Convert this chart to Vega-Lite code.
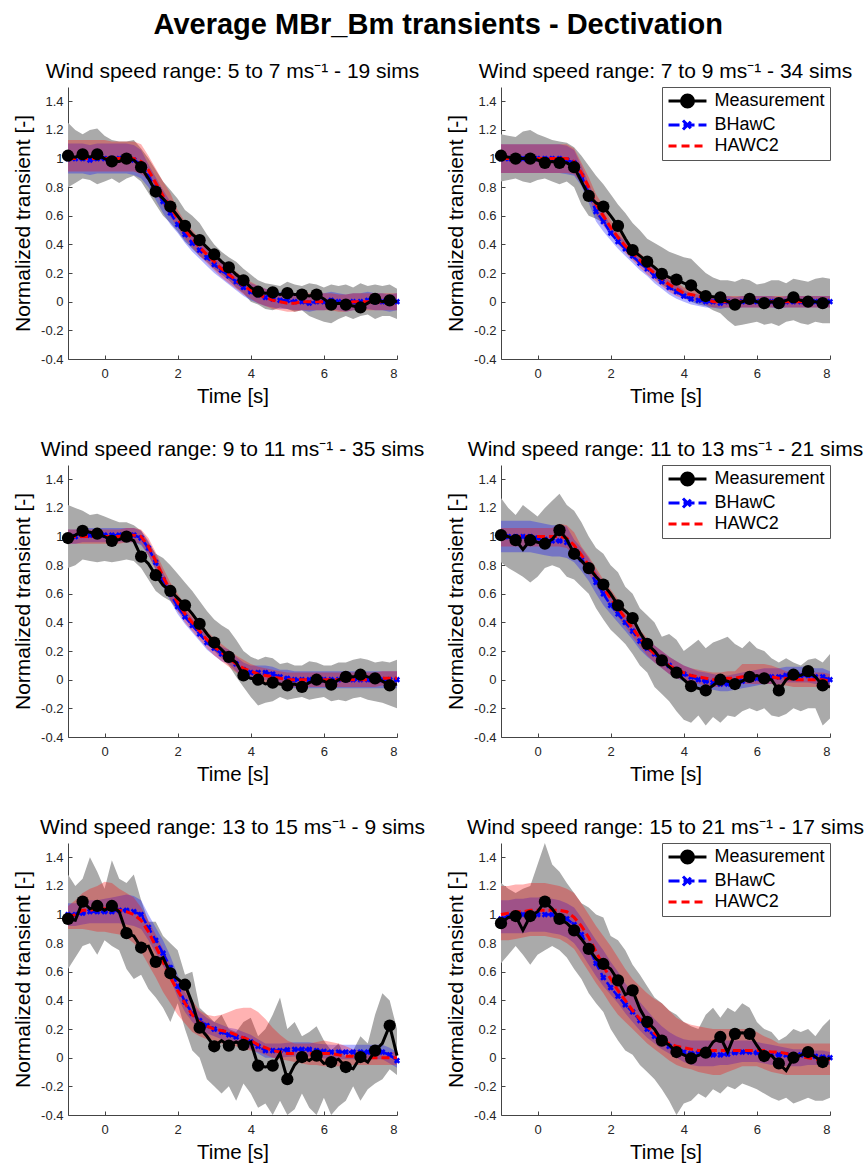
{
"$schema": "https://vega.github.io/schema/vega-lite/v6.json",
"background": "white",
"padding": {"left": 12, "top": 10, "right": 0, "bottom": 0},
"title": {"text": "Average MBr_Bm transients - Dectivation", "fontSize": 29, "fontWeight": "bold", "font": "Liberation Sans", "color": "black", "anchor": "middle", "offset": 21},
"columns": 2,
"spacing": {"row": 106, "column": 104},
"bounds": "flush",
"resolve": {"scale": {"color": "independent"}, "legend": {"color": "independent"}},
"data": {"values": [
{"p":1,"t":-1,"m":1.02,"gl":0.8,"gh":1.25,"b":1,"bl":0.895,"bh":1.105,"h":1,"hl":0.91,"hh":1.13},
{"p":1,"t":-0.8,"m":1.01,"gl":0.83,"gh":1.2,"b":1,"bl":0.895,"bh":1.105,"h":1,"hl":0.91,"hh":1.13},
{"p":1,"t":-0.6,"m":1.03,"gl":0.86,"gh":1.17,"b":1,"bl":0.895,"bh":1.105,"h":1,"hl":0.91,"hh":1.13},
{"p":1,"t":-0.4,"m":1.01,"gl":0.85,"gh":1.2,"b":0.99,"bl":0.885,"bh":1.095,"h":1,"hl":0.91,"hh":1.13},
{"p":1,"t":-0.2,"m":1.03,"gl":0.82,"gh":1.21,"b":1,"bl":0.895,"bh":1.105,"h":1,"hl":0.91,"hh":1.13},
{"p":1,"t":0,"m":1,"gl":0.84,"gh":1.16,"b":1,"bl":0.895,"bh":1.105,"h":1,"hl":0.91,"hh":1.13},
{"p":1,"t":0.2,"m":0.98,"gl":0.86,"gh":1.13,"b":1,"bl":0.895,"bh":1.105,"h":1,"hl":0.91,"hh":1.12},
{"p":1,"t":0.4,"m":0.98,"gl":0.83,"gh":1.12,"b":1,"bl":0.895,"bh":1.105,"h":1,"hl":0.91,"hh":1.12},
{"p":1,"t":0.6,"m":1,"gl":0.86,"gh":1.12,"b":1,"bl":0.895,"bh":1.105,"h":1,"hl":0.91,"hh":1.12},
{"p":1,"t":0.8,"m":0.99,"gl":0.88,"gh":1.13,"b":0.99,"bl":0.885,"bh":1.095,"h":1,"hl":0.91,"hh":1.12},
{"p":1,"t":1,"m":0.94,"gl":0.84,"gh":1.07,"b":0.96,"bl":0.86,"bh":1.06,"h":0.98,"hl":0.89,"hh":1.1},
{"p":1,"t":1.2,"m":0.86,"gl":0.76,"gh":1,"b":0.88,"bl":0.8,"bh":0.96,"h":0.92,"hl":0.85,"hh":1.02},
{"p":1,"t":1.4,"m":0.77,"gl":0.68,"gh":0.92,"b":0.79,"bl":0.71,"bh":0.87,"h":0.83,"hl":0.76,"hh":0.93},
{"p":1,"t":1.6,"m":0.72,"gl":0.6,"gh":0.84,"b":0.7,"bl":0.62,"bh":0.78,"h":0.74,"hl":0.67,"hh":0.84},
{"p":1,"t":1.8,"m":0.665,"gl":0.55,"gh":0.78,"b":0.62,"bl":0.54,"bh":0.7,"h":0.66,"hl":0.59,"hh":0.76},
{"p":1,"t":2,"m":0.6,"gl":0.49,"gh":0.72,"b":0.54,"bl":0.48,"bh":0.6,"h":0.58,"hl":0.52,"hh":0.64},
{"p":1,"t":2.2,"m":0.53,"gl":0.42,"gh":0.64,"b":0.47,"bl":0.41,"bh":0.53,"h":0.5,"hl":0.44,"hh":0.56},
{"p":1,"t":2.4,"m":0.47,"gl":0.37,"gh":0.6,"b":0.41,"bl":0.35,"bh":0.47,"h":0.44,"hl":0.38,"hh":0.5},
{"p":1,"t":2.6,"m":0.43,"gl":0.32,"gh":0.55,"b":0.36,"bl":0.3,"bh":0.42,"h":0.38,"hl":0.32,"hh":0.44},
{"p":1,"t":2.8,"m":0.38,"gl":0.28,"gh":0.47,"b":0.31,"bl":0.25,"bh":0.37,"h":0.33,"hl":0.27,"hh":0.39},
{"p":1,"t":3,"m":0.33,"gl":0.23,"gh":0.4,"b":0.26,"bl":0.2,"bh":0.32,"h":0.28,"hl":0.22,"hh":0.34},
{"p":1,"t":3.2,"m":0.28,"gl":0.19,"gh":0.35,"b":0.22,"bl":0.16,"bh":0.28,"h":0.23,"hl":0.17,"hh":0.29},
{"p":1,"t":3.4,"m":0.24,"gl":0.15,"gh":0.31,"b":0.18,"bl":0.12,"bh":0.24,"h":0.19,"hl":0.13,"hh":0.25},
{"p":1,"t":3.6,"m":0.19,"gl":0.1,"gh":0.28,"b":0.14,"bl":0.08,"bh":0.2,"h":0.15,"hl":0.09,"hh":0.21},
{"p":1,"t":3.8,"m":0.15,"gl":0.06,"gh":0.23,"b":0.1,"bl":0.04,"bh":0.16,"h":0.11,"hl":0.05,"hh":0.17},
{"p":1,"t":4,"m":0.1,"gl":0,"gh":0.19,"b":0.07,"bl":0.01,"bh":0.13,"h":0.08,"hl":0.02,"hh":0.14},
{"p":1,"t":4.2,"m":0.07,"gl":-0.02,"gh":0.15,"b":0.05,"bl":-0.01,"bh":0.11,"h":0.05,"hl":-0.01,"hh":0.11},
{"p":1,"t":4.4,"m":0.06,"gl":-0.05,"gh":0.13,"b":0.03,"bl":-0.03,"bh":0.09,"h":0.03,"hl":-0.03,"hh":0.09},
{"p":1,"t":4.6,"m":0.065,"gl":-0.06,"gh":0.12,"b":0.02,"bl":-0.04,"bh":0.08,"h":0.01,"hl":-0.05,"hh":0.07},
{"p":1,"t":4.8,"m":0.05,"gl":-0.04,"gh":0.11,"b":0.01,"bl":-0.05,"bh":0.07,"h":0,"hl":-0.06,"hh":0.06},
{"p":1,"t":5,"m":0.06,"gl":-0.05,"gh":0.14,"b":0.01,"bl":-0.05,"bh":0.07,"h":-0.01,"hl":-0.07,"hh":0.05},
{"p":1,"t":5.2,"m":0.05,"gl":-0.07,"gh":0.12,"b":0,"bl":-0.06,"bh":0.06,"h":-0.01,"hl":-0.07,"hh":0.05},
{"p":1,"t":5.4,"m":0.05,"gl":-0.06,"gh":0.11,"b":0,"bl":-0.06,"bh":0.06,"h":0,"hl":-0.06,"hh":0.06},
{"p":1,"t":5.6,"m":0.04,"gl":-0.1,"gh":0.13,"b":-0.01,"bl":-0.07,"bh":0.05,"h":0,"hl":-0.06,"hh":0.06},
{"p":1,"t":5.8,"m":0.05,"gl":-0.12,"gh":0.12,"b":0,"bl":-0.06,"bh":0.06,"h":0,"hl":-0.06,"hh":0.06},
{"p":1,"t":6,"m":0.02,"gl":-0.14,"gh":0.1,"b":0,"bl":-0.06,"bh":0.06,"h":0,"hl":-0.06,"hh":0.06},
{"p":1,"t":6.2,"m":-0.02,"gl":-0.15,"gh":0.12,"b":0.01,"bl":-0.05,"bh":0.07,"h":0,"hl":-0.06,"hh":0.06},
{"p":1,"t":6.4,"m":-0.01,"gl":-0.12,"gh":0.11,"b":0,"bl":-0.06,"bh":0.06,"h":-0.01,"hl":-0.07,"hh":0.05},
{"p":1,"t":6.6,"m":-0.02,"gl":-0.1,"gh":0.12,"b":-0.01,"bl":-0.07,"bh":0.05,"h":-0.01,"hl":-0.07,"hh":0.05},
{"p":1,"t":6.8,"m":-0.03,"gl":-0.12,"gh":0.1,"b":0,"bl":-0.06,"bh":0.06,"h":0,"hl":-0.06,"hh":0.06},
{"p":1,"t":7,"m":-0.04,"gl":-0.1,"gh":0.13,"b":0,"bl":-0.06,"bh":0.06,"h":0,"hl":-0.06,"hh":0.06},
{"p":1,"t":7.2,"m":-0.01,"gl":-0.09,"gh":0.11,"b":0.01,"bl":-0.05,"bh":0.07,"h":0,"hl":-0.06,"hh":0.06},
{"p":1,"t":7.4,"m":0.02,"gl":-0.12,"gh":0.12,"b":0,"bl":-0.06,"bh":0.06,"h":0,"hl":-0.06,"hh":0.06},
{"p":1,"t":7.6,"m":0,"gl":-0.1,"gh":0.11,"b":0,"bl":-0.06,"bh":0.06,"h":0,"hl":-0.06,"hh":0.06},
{"p":1,"t":7.8,"m":0.01,"gl":-0.1,"gh":0.12,"b":-0.01,"bl":-0.07,"bh":0.05,"h":0,"hl":-0.06,"hh":0.06},
{"p":1,"t":8,"m":0,"gl":-0.12,"gh":0.09,"b":0,"bl":-0.06,"bh":0.06,"h":0,"hl":-0.06,"hh":0.06},

{"p":2,"t":-1,"m":1.02,"gl":0.84,"gh":1.17,"b":1,"bl":0.9,"bh":1.1,"h":1,"hl":0.9,"hh":1.1},
{"p":2,"t":-0.8,"m":1.01,"gl":0.85,"gh":1.16,"b":1,"bl":0.9,"bh":1.1,"h":1,"hl":0.9,"hh":1.1},
{"p":2,"t":-0.6,"m":1,"gl":0.86,"gh":1.15,"b":1,"bl":0.9,"bh":1.1,"h":1,"hl":0.9,"hh":1.1},
{"p":2,"t":-0.4,"m":1,"gl":0.84,"gh":1.19,"b":1,"bl":0.9,"bh":1.1,"h":1,"hl":0.9,"hh":1.1},
{"p":2,"t":-0.2,"m":1,"gl":0.83,"gh":1.2,"b":1,"bl":0.9,"bh":1.1,"h":1,"hl":0.9,"hh":1.1},
{"p":2,"t":0,"m":0.99,"gl":0.85,"gh":1.17,"b":1,"bl":0.9,"bh":1.1,"h":1,"hl":0.9,"hh":1.1},
{"p":2,"t":0.2,"m":0.97,"gl":0.86,"gh":1.15,"b":1,"bl":0.9,"bh":1.1,"h":1,"hl":0.9,"hh":1.1},
{"p":2,"t":0.4,"m":0.98,"gl":0.84,"gh":1.13,"b":1,"bl":0.9,"bh":1.1,"h":1,"hl":0.9,"hh":1.1},
{"p":2,"t":0.6,"m":0.97,"gl":0.82,"gh":1.12,"b":1,"bl":0.9,"bh":1.1,"h":1,"hl":0.9,"hh":1.1},
{"p":2,"t":0.8,"m":0.97,"gl":0.84,"gh":1.11,"b":0.99,"bl":0.89,"bh":1.09,"h":1,"hl":0.9,"hh":1.1},
{"p":2,"t":1,"m":0.94,"gl":0.8,"gh":1.08,"b":0.97,"bl":0.88,"bh":1.06,"h":0.98,"hl":0.89,"hh":1.07},
{"p":2,"t":1.2,"m":0.84,"gl":0.68,"gh":1.02,"b":0.88,"bl":0.81,"bh":0.95,"h":0.9,"hl":0.83,"hh":0.97},
{"p":2,"t":1.4,"m":0.74,"gl":0.6,"gh":0.95,"b":0.76,"bl":0.69,"bh":0.83,"h":0.8,"hl":0.73,"hh":0.87},
{"p":2,"t":1.6,"m":0.69,"gl":0.58,"gh":0.88,"b":0.63,"bl":0.56,"bh":0.7,"h":0.68,"hl":0.61,"hh":0.75},
{"p":2,"t":1.8,"m":0.665,"gl":0.55,"gh":0.82,"b":0.56,"bl":0.49,"bh":0.63,"h":0.6,"hl":0.53,"hh":0.67},
{"p":2,"t":2,"m":0.6,"gl":0.48,"gh":0.75,"b":0.48,"bl":0.43,"bh":0.53,"h":0.52,"hl":0.47,"hh":0.57},
{"p":2,"t":2.2,"m":0.53,"gl":0.42,"gh":0.68,"b":0.42,"bl":0.37,"bh":0.47,"h":0.45,"hl":0.4,"hh":0.5},
{"p":2,"t":2.4,"m":0.44,"gl":0.36,"gh":0.62,"b":0.37,"bl":0.32,"bh":0.42,"h":0.39,"hl":0.34,"hh":0.44},
{"p":2,"t":2.6,"m":0.36,"gl":0.3,"gh":0.55,"b":0.32,"bl":0.27,"bh":0.37,"h":0.34,"hl":0.29,"hh":0.39},
{"p":2,"t":2.8,"m":0.32,"gl":0.26,"gh":0.5,"b":0.27,"bl":0.22,"bh":0.32,"h":0.29,"hl":0.24,"hh":0.34},
{"p":2,"t":3,"m":0.28,"gl":0.22,"gh":0.44,"b":0.23,"bl":0.18,"bh":0.28,"h":0.24,"hl":0.19,"hh":0.29},
{"p":2,"t":3.2,"m":0.24,"gl":0.17,"gh":0.41,"b":0.18,"bl":0.13,"bh":0.23,"h":0.2,"hl":0.15,"hh":0.25},
{"p":2,"t":3.4,"m":0.195,"gl":0.12,"gh":0.38,"b":0.14,"bl":0.09,"bh":0.19,"h":0.16,"hl":0.11,"hh":0.21},
{"p":2,"t":3.6,"m":0.17,"gl":0.09,"gh":0.35,"b":0.1,"bl":0.05,"bh":0.15,"h":0.12,"hl":0.07,"hh":0.17},
{"p":2,"t":3.8,"m":0.155,"gl":0.06,"gh":0.33,"b":0.07,"bl":0.02,"bh":0.12,"h":0.09,"hl":0.04,"hh":0.14},
{"p":2,"t":4,"m":0.13,"gl":0.03,"gh":0.31,"b":0.04,"bl":0,"bh":0.08,"h":0.06,"hl":0.02,"hh":0.1},
{"p":2,"t":4.2,"m":0.115,"gl":0,"gh":0.3,"b":0.02,"bl":-0.02,"bh":0.06,"h":0.05,"hl":0.01,"hh":0.09},
{"p":2,"t":4.4,"m":0.07,"gl":-0.02,"gh":0.25,"b":0.01,"bl":-0.03,"bh":0.05,"h":0.04,"hl":0,"hh":0.08},
{"p":2,"t":4.6,"m":0.04,"gl":-0.03,"gh":0.2,"b":0,"bl":-0.04,"bh":0.04,"h":0.02,"hl":-0.02,"hh":0.06},
{"p":2,"t":4.8,"m":0.035,"gl":-0.06,"gh":0.17,"b":0,"bl":-0.04,"bh":0.04,"h":0,"hl":-0.04,"hh":0.04},
{"p":2,"t":5,"m":0.03,"gl":-0.08,"gh":0.15,"b":-0.01,"bl":-0.05,"bh":0.03,"h":0,"hl":-0.04,"hh":0.04},
{"p":2,"t":5.2,"m":0,"gl":-0.13,"gh":0.15,"b":0,"bl":-0.04,"bh":0.04,"h":0,"hl":-0.04,"hh":0.04},
{"p":2,"t":5.4,"m":-0.02,"gl":-0.17,"gh":0.14,"b":-0.01,"bl":-0.05,"bh":0.03,"h":0,"hl":-0.04,"hh":0.04},
{"p":2,"t":5.6,"m":0,"gl":-0.16,"gh":0.16,"b":0,"bl":-0.04,"bh":0.04,"h":0,"hl":-0.04,"hh":0.04},
{"p":2,"t":5.8,"m":0.02,"gl":-0.15,"gh":0.15,"b":0,"bl":-0.04,"bh":0.04,"h":0,"hl":-0.04,"hh":0.04},
{"p":2,"t":6,"m":0,"gl":-0.14,"gh":0.12,"b":0,"bl":-0.04,"bh":0.04,"h":0,"hl":-0.04,"hh":0.04},
{"p":2,"t":6.2,"m":-0.01,"gl":-0.16,"gh":0.13,"b":0,"bl":-0.04,"bh":0.04,"h":0,"hl":-0.04,"hh":0.04},
{"p":2,"t":6.4,"m":0,"gl":-0.15,"gh":0.15,"b":0,"bl":-0.04,"bh":0.04,"h":0,"hl":-0.04,"hh":0.04},
{"p":2,"t":6.6,"m":-0.01,"gl":-0.17,"gh":0.15,"b":-0.01,"bl":-0.05,"bh":0.03,"h":0,"hl":-0.04,"hh":0.04},
{"p":2,"t":6.8,"m":0.01,"gl":-0.14,"gh":0.13,"b":0,"bl":-0.04,"bh":0.04,"h":0,"hl":-0.04,"hh":0.04},
{"p":2,"t":7,"m":0.03,"gl":-0.13,"gh":0.16,"b":0,"bl":-0.04,"bh":0.04,"h":0,"hl":-0.04,"hh":0.04},
{"p":2,"t":7.2,"m":0.01,"gl":-0.15,"gh":0.15,"b":0,"bl":-0.04,"bh":0.04,"h":0,"hl":-0.04,"hh":0.04},
{"p":2,"t":7.4,"m":0,"gl":-0.16,"gh":0.14,"b":0,"bl":-0.04,"bh":0.04,"h":0,"hl":-0.04,"hh":0.04},
{"p":2,"t":7.6,"m":0,"gl":-0.14,"gh":0.16,"b":0,"bl":-0.04,"bh":0.04,"h":0,"hl":-0.04,"hh":0.04},
{"p":2,"t":7.8,"m":-0.01,"gl":-0.15,"gh":0.17,"b":0,"bl":-0.04,"bh":0.04,"h":0,"hl":-0.04,"hh":0.04},
{"p":2,"t":8,"m":0,"gl":-0.15,"gh":0.16,"b":0,"bl":-0.04,"bh":0.04,"h":0,"hl":-0.04,"hh":0.04},

{"p":3,"t":-1,"m":0.99,"gl":0.78,"gh":1.22,"b":1,"bl":0.95,"bh":1.05,"h":1,"hl":0.95,"hh":1.05},
{"p":3,"t":-0.8,"m":1.01,"gl":0.8,"gh":1.2,"b":1,"bl":0.95,"bh":1.05,"h":1,"hl":0.95,"hh":1.05},
{"p":3,"t":-0.6,"m":1.04,"gl":0.84,"gh":1.18,"b":1.01,"bl":0.96,"bh":1.06,"h":1,"hl":0.95,"hh":1.05},
{"p":3,"t":-0.4,"m":1.03,"gl":0.83,"gh":1.15,"b":1.01,"bl":0.96,"bh":1.06,"h":1,"hl":0.95,"hh":1.05},
{"p":3,"t":-0.2,"m":1.02,"gl":0.82,"gh":1.16,"b":1.01,"bl":0.96,"bh":1.06,"h":1,"hl":0.95,"hh":1.05},
{"p":3,"t":0,"m":1,"gl":0.83,"gh":1.14,"b":1.01,"bl":0.96,"bh":1.06,"h":1,"hl":0.95,"hh":1.05},
{"p":3,"t":0.2,"m":0.97,"gl":0.82,"gh":1.12,"b":1.01,"bl":0.96,"bh":1.06,"h":1,"hl":0.95,"hh":1.05},
{"p":3,"t":0.4,"m":0.98,"gl":0.83,"gh":1.1,"b":1.01,"bl":0.96,"bh":1.06,"h":1,"hl":0.95,"hh":1.05},
{"p":3,"t":0.6,"m":1,"gl":0.84,"gh":1.1,"b":1.01,"bl":0.96,"bh":1.06,"h":1.01,"hl":0.96,"hh":1.06},
{"p":3,"t":0.8,"m":0.97,"gl":0.83,"gh":1.08,"b":1.01,"bl":0.96,"bh":1.06,"h":1.01,"hl":0.96,"hh":1.06},
{"p":3,"t":1,"m":0.86,"gl":0.78,"gh":1.04,"b":0.99,"bl":0.94,"bh":1.04,"h":1,"hl":0.95,"hh":1.05},
{"p":3,"t":1.2,"m":0.81,"gl":0.7,"gh":0.96,"b":0.92,"bl":0.87,"bh":0.97,"h":0.93,"hl":0.87,"hh":0.99},
{"p":3,"t":1.4,"m":0.73,"gl":0.62,"gh":0.88,"b":0.82,"bl":0.77,"bh":0.87,"h":0.83,"hl":0.77,"hh":0.89},
{"p":3,"t":1.6,"m":0.66,"gl":0.58,"gh":0.85,"b":0.7,"bl":0.65,"bh":0.75,"h":0.72,"hl":0.66,"hh":0.78},
{"p":3,"t":1.8,"m":0.62,"gl":0.55,"gh":0.8,"b":0.6,"bl":0.55,"bh":0.65,"h":0.62,"hl":0.56,"hh":0.68},
{"p":3,"t":2,"m":0.57,"gl":0.48,"gh":0.74,"b":0.51,"bl":0.46,"bh":0.56,"h":0.54,"hl":0.48,"hh":0.6},
{"p":3,"t":2.2,"m":0.52,"gl":0.43,"gh":0.68,"b":0.44,"bl":0.39,"bh":0.49,"h":0.46,"hl":0.4,"hh":0.52},
{"p":3,"t":2.4,"m":0.46,"gl":0.38,"gh":0.62,"b":0.38,"bl":0.33,"bh":0.43,"h":0.4,"hl":0.34,"hh":0.46},
{"p":3,"t":2.6,"m":0.39,"gl":0.33,"gh":0.55,"b":0.32,"bl":0.27,"bh":0.37,"h":0.34,"hl":0.28,"hh":0.4},
{"p":3,"t":2.8,"m":0.32,"gl":0.26,"gh":0.48,"b":0.26,"bl":0.21,"bh":0.31,"h":0.28,"hl":0.22,"hh":0.34},
{"p":3,"t":3,"m":0.26,"gl":0.2,"gh":0.42,"b":0.22,"bl":0.17,"bh":0.27,"h":0.23,"hl":0.17,"hh":0.29},
{"p":3,"t":3.2,"m":0.21,"gl":0.15,"gh":0.38,"b":0.18,"bl":0.13,"bh":0.23,"h":0.19,"hl":0.13,"hh":0.25},
{"p":3,"t":3.4,"m":0.16,"gl":0.1,"gh":0.35,"b":0.16,"bl":0.11,"bh":0.21,"h":0.15,"hl":0.09,"hh":0.21},
{"p":3,"t":3.6,"m":0.12,"gl":0.02,"gh":0.28,"b":0.11,"bl":0.06,"bh":0.16,"h":0.11,"hl":0.05,"hh":0.17},
{"p":3,"t":3.8,"m":0.03,"gl":-0.05,"gh":0.2,"b":0.07,"bl":0.02,"bh":0.12,"h":0.08,"hl":0.02,"hh":0.14},
{"p":3,"t":4,"m":0.01,"gl":-0.12,"gh":0.16,"b":0.05,"bl":0,"bh":0.1,"h":0.06,"hl":0.01,"hh":0.11},
{"p":3,"t":4.2,"m":0,"gl":-0.18,"gh":0.14,"b":0.05,"bl":0,"bh":0.1,"h":0.04,"hl":-0.01,"hh":0.09},
{"p":3,"t":4.4,"m":-0.03,"gl":-0.16,"gh":0.16,"b":0.05,"bl":0,"bh":0.1,"h":0.03,"hl":-0.02,"hh":0.08},
{"p":3,"t":4.6,"m":-0.02,"gl":-0.15,"gh":0.15,"b":0.04,"bl":-0.01,"bh":0.09,"h":0.02,"hl":-0.03,"hh":0.07},
{"p":3,"t":4.8,"m":-0.03,"gl":-0.12,"gh":0.11,"b":0.02,"bl":-0.03,"bh":0.07,"h":0.01,"hl":-0.04,"hh":0.06},
{"p":3,"t":5,"m":-0.04,"gl":-0.14,"gh":0.12,"b":0.01,"bl":-0.05,"bh":0.07,"h":0,"hl":-0.05,"hh":0.05},
{"p":3,"t":5.2,"m":-0.03,"gl":-0.13,"gh":0.1,"b":0,"bl":-0.06,"bh":0.06,"h":0,"hl":-0.05,"hh":0.05},
{"p":3,"t":5.4,"m":-0.05,"gl":-0.12,"gh":0.1,"b":0,"bl":-0.06,"bh":0.06,"h":0,"hl":-0.05,"hh":0.05},
{"p":3,"t":5.6,"m":-0.02,"gl":-0.14,"gh":0.13,"b":0,"bl":-0.06,"bh":0.06,"h":0,"hl":-0.05,"hh":0.05},
{"p":3,"t":5.8,"m":0,"gl":-0.13,"gh":0.12,"b":0,"bl":-0.06,"bh":0.06,"h":0,"hl":-0.05,"hh":0.05},
{"p":3,"t":6,"m":-0.01,"gl":-0.12,"gh":0.1,"b":0,"bl":-0.06,"bh":0.06,"h":0,"hl":-0.05,"hh":0.05},
{"p":3,"t":6.2,"m":-0.035,"gl":-0.15,"gh":0.1,"b":0,"bl":-0.06,"bh":0.06,"h":0,"hl":-0.05,"hh":0.05},
{"p":3,"t":6.4,"m":0,"gl":-0.14,"gh":0.12,"b":0,"bl":-0.06,"bh":0.06,"h":0,"hl":-0.05,"hh":0.05},
{"p":3,"t":6.6,"m":0.02,"gl":-0.15,"gh":0.12,"b":0,"bl":-0.06,"bh":0.06,"h":0,"hl":-0.05,"hh":0.05},
{"p":3,"t":6.8,"m":0.02,"gl":-0.13,"gh":0.14,"b":0,"bl":-0.06,"bh":0.06,"h":0,"hl":-0.05,"hh":0.05},
{"p":3,"t":7,"m":0.035,"gl":-0.12,"gh":0.15,"b":0,"bl":-0.06,"bh":0.06,"h":0,"hl":-0.05,"hh":0.05},
{"p":3,"t":7.2,"m":0.02,"gl":-0.14,"gh":0.14,"b":0,"bl":-0.06,"bh":0.06,"h":0,"hl":-0.05,"hh":0.05},
{"p":3,"t":7.4,"m":0.01,"gl":-0.15,"gh":0.12,"b":0,"bl":-0.06,"bh":0.06,"h":0,"hl":-0.05,"hh":0.05},
{"p":3,"t":7.6,"m":-0.01,"gl":-0.16,"gh":0.13,"b":0,"bl":-0.06,"bh":0.06,"h":0.01,"hl":-0.04,"hh":0.06},
{"p":3,"t":7.8,"m":-0.04,"gl":-0.18,"gh":0.12,"b":0,"bl":-0.06,"bh":0.06,"h":0.01,"hl":-0.04,"hh":0.06},
{"p":3,"t":8,"m":-0.03,"gl":-0.2,"gh":0.14,"b":0,"bl":-0.06,"bh":0.06,"h":0.01,"hl":-0.04,"hh":0.06},

{"p":4,"t":-1,"m":1.01,"gl":0.82,"gh":1.27,"b":1,"bl":0.89,"bh":1.11,"h":1,"hl":0.93,"hh":1.06},
{"p":4,"t":-0.8,"m":1,"gl":0.78,"gh":1.2,"b":1,"bl":0.89,"bh":1.11,"h":1,"hl":0.93,"hh":1.06},
{"p":4,"t":-0.6,"m":0.975,"gl":0.75,"gh":1.15,"b":1,"bl":0.89,"bh":1.11,"h":1,"hl":0.93,"hh":1.06},
{"p":4,"t":-0.4,"m":0.91,"gl":0.72,"gh":1.22,"b":1,"bl":0.89,"bh":1.11,"h":1,"hl":0.93,"hh":1.06},
{"p":4,"t":-0.2,"m":0.975,"gl":0.68,"gh":1.18,"b":1,"bl":0.89,"bh":1.11,"h":1,"hl":0.93,"hh":1.06},
{"p":4,"t":0,"m":0.96,"gl":0.72,"gh":1.14,"b":0.99,"bl":0.88,"bh":1.1,"h":1,"hl":0.93,"hh":1.06},
{"p":4,"t":0.2,"m":0.95,"gl":0.78,"gh":1.2,"b":0.98,"bl":0.87,"bh":1.09,"h":1,"hl":0.93,"hh":1.06},
{"p":4,"t":0.4,"m":0.98,"gl":0.8,"gh":1.25,"b":0.97,"bl":0.86,"bh":1.08,"h":1,"hl":0.93,"hh":1.06},
{"p":4,"t":0.6,"m":1.045,"gl":0.78,"gh":1.3,"b":0.97,"bl":0.86,"bh":1.08,"h":1,"hl":0.93,"hh":1.09},
{"p":4,"t":0.8,"m":0.98,"gl":0.72,"gh":1.22,"b":0.96,"bl":0.85,"bh":1.07,"h":0.99,"hl":0.92,"hh":1.08},
{"p":4,"t":1,"m":0.88,"gl":0.7,"gh":1.18,"b":0.9,"bl":0.82,"bh":0.98,"h":0.94,"hl":0.87,"hh":1.03},
{"p":4,"t":1.2,"m":0.83,"gl":0.65,"gh":1.1,"b":0.84,"bl":0.76,"bh":0.92,"h":0.87,"hl":0.81,"hh":0.93},
{"p":4,"t":1.4,"m":0.78,"gl":0.6,"gh":1,"b":0.77,"bl":0.69,"bh":0.85,"h":0.8,"hl":0.74,"hh":0.86},
{"p":4,"t":1.6,"m":0.72,"gl":0.5,"gh":0.92,"b":0.68,"bl":0.6,"bh":0.76,"h":0.72,"hl":0.66,"hh":0.78},
{"p":4,"t":1.8,"m":0.665,"gl":0.42,"gh":0.88,"b":0.6,"bl":0.52,"bh":0.68,"h":0.64,"hl":0.58,"hh":0.7},
{"p":4,"t":2,"m":0.6,"gl":0.35,"gh":0.8,"b":0.52,"bl":0.46,"bh":0.58,"h":0.57,"hl":0.51,"hh":0.63},
{"p":4,"t":2.2,"m":0.52,"gl":0.3,"gh":0.75,"b":0.46,"bl":0.4,"bh":0.52,"h":0.5,"hl":0.44,"hh":0.56},
{"p":4,"t":2.4,"m":0.48,"gl":0.25,"gh":0.65,"b":0.4,"bl":0.34,"bh":0.46,"h":0.43,"hl":0.37,"hh":0.49},
{"p":4,"t":2.6,"m":0.43,"gl":0.18,"gh":0.6,"b":0.34,"bl":0.28,"bh":0.4,"h":0.36,"hl":0.3,"hh":0.42},
{"p":4,"t":2.8,"m":0.33,"gl":0.1,"gh":0.5,"b":0.27,"bl":0.21,"bh":0.33,"h":0.29,"hl":0.23,"hh":0.35},
{"p":4,"t":3,"m":0.25,"gl":0.05,"gh":0.45,"b":0.22,"bl":0.16,"bh":0.28,"h":0.23,"hl":0.17,"hh":0.29},
{"p":4,"t":3.2,"m":0.2,"gl":-0.05,"gh":0.4,"b":0.18,"bl":0.12,"bh":0.24,"h":0.18,"hl":0.12,"hh":0.24},
{"p":4,"t":3.4,"m":0.135,"gl":-0.1,"gh":0.3,"b":0.14,"bl":0.08,"bh":0.2,"h":0.14,"hl":0.08,"hh":0.2},
{"p":4,"t":3.6,"m":0.09,"gl":-0.15,"gh":0.32,"b":0.1,"bl":0.04,"bh":0.16,"h":0.1,"hl":0.04,"hh":0.16},
{"p":4,"t":3.8,"m":0.05,"gl":-0.22,"gh":0.28,"b":0.07,"bl":0.01,"bh":0.13,"h":0.07,"hl":0.01,"hh":0.13},
{"p":4,"t":4,"m":0,"gl":-0.28,"gh":0.2,"b":0.04,"bl":-0.01,"bh":0.1,"h":0.05,"hl":0,"hh":0.1},
{"p":4,"t":4.2,"m":-0.045,"gl":-0.3,"gh":0.24,"b":0.02,"bl":-0.03,"bh":0.08,"h":0.03,"hl":-0.02,"hh":0.08},
{"p":4,"t":4.4,"m":-0.06,"gl":-0.25,"gh":0.28,"b":0,"bl":-0.05,"bh":0.06,"h":0.02,"hl":-0.03,"hh":0.07},
{"p":4,"t":4.6,"m":-0.075,"gl":-0.32,"gh":0.22,"b":-0.01,"bl":-0.06,"bh":0.05,"h":0.01,"hl":-0.04,"hh":0.06},
{"p":4,"t":4.8,"m":-0.04,"gl":-0.26,"gh":0.26,"b":-0.02,"bl":-0.07,"bh":0.04,"h":0,"hl":-0.05,"hh":0.05},
{"p":4,"t":5,"m":0,"gl":-0.3,"gh":0.28,"b":-0.03,"bl":-0.08,"bh":0.03,"h":0,"hl":-0.05,"hh":0.05},
{"p":4,"t":5.2,"m":-0.01,"gl":-0.25,"gh":0.3,"b":-0.03,"bl":-0.08,"bh":0.03,"h":0.01,"hl":-0.04,"hh":0.06},
{"p":4,"t":5.4,"m":-0.03,"gl":-0.26,"gh":0.25,"b":-0.02,"bl":-0.07,"bh":0.04,"h":0.01,"hl":-0.04,"hh":0.06},
{"p":4,"t":5.6,"m":-0.01,"gl":-0.22,"gh":0.22,"b":-0.01,"bl":-0.06,"bh":0.05,"h":0.02,"hl":-0.03,"hh":0.11},
{"p":4,"t":5.8,"m":0.02,"gl":-0.2,"gh":0.27,"b":0,"bl":-0.05,"bh":0.06,"h":0.02,"hl":-0.03,"hh":0.11},
{"p":4,"t":6,"m":0.03,"gl":-0.22,"gh":0.22,"b":0.01,"bl":-0.04,"bh":0.07,"h":0.02,"hl":-0.03,"hh":0.11},
{"p":4,"t":6.2,"m":0.01,"gl":-0.2,"gh":0.2,"b":0.02,"bl":-0.03,"bh":0.08,"h":0.02,"hl":-0.03,"hh":0.11},
{"p":4,"t":6.4,"m":0,"gl":-0.25,"gh":0.15,"b":0.02,"bl":-0.03,"bh":0.08,"h":0.02,"hl":-0.03,"hh":0.1},
{"p":4,"t":6.6,"m":-0.075,"gl":-0.26,"gh":0.12,"b":0.02,"bl":-0.03,"bh":0.08,"h":0.01,"hl":-0.04,"hh":0.08},
{"p":4,"t":6.8,"m":0,"gl":-0.24,"gh":0.15,"b":0.03,"bl":-0.02,"bh":0.09,"h":0.01,"hl":-0.04,"hh":0.06},
{"p":4,"t":7,"m":0.035,"gl":-0.2,"gh":0.12,"b":0.03,"bl":-0.02,"bh":0.09,"h":0,"hl":-0.05,"hh":0.05},
{"p":4,"t":7.2,"m":0.03,"gl":-0.22,"gh":0.1,"b":0.03,"bl":-0.02,"bh":0.09,"h":0,"hl":-0.05,"hh":0.05},
{"p":4,"t":7.4,"m":0.06,"gl":-0.2,"gh":0.14,"b":0.03,"bl":-0.02,"bh":0.09,"h":0,"hl":-0.05,"hh":0.05},
{"p":4,"t":7.6,"m":0.02,"gl":-0.2,"gh":0.15,"b":0.02,"bl":-0.03,"bh":0.08,"h":0,"hl":-0.05,"hh":0.05},
{"p":4,"t":7.8,"m":-0.04,"gl":-0.32,"gh":0.12,"b":0.02,"bl":-0.03,"bh":0.08,"h":0,"hl":-0.05,"hh":0.05},
{"p":4,"t":8,"m":-0.05,"gl":-0.27,"gh":0.18,"b":0,"bl":-0.05,"bh":0.06,"h":-0.01,"hl":-0.06,"hh":0.04},

{"p":5,"t":-1,"m":0.97,"gl":0.62,"gh":1.28,"b":1,"bl":0.92,"bh":1.08,"h":0.98,"hl":0.9,"hh":1.06},
{"p":5,"t":-0.8,"m":0.96,"gl":0.7,"gh":1.2,"b":1,"bl":0.92,"bh":1.08,"h":1,"hl":0.9,"hh":1.1},
{"p":5,"t":-0.6,"m":1.09,"gl":0.78,"gh":1.25,"b":1.01,"bl":0.93,"bh":1.09,"h":1.03,"hl":0.9,"hh":1.15},
{"p":5,"t":-0.4,"m":1.04,"gl":0.8,"gh":1.4,"b":1.02,"bl":0.94,"bh":1.1,"h":1.03,"hl":0.89,"hh":1.18},
{"p":5,"t":-0.2,"m":1.06,"gl":0.72,"gh":1.3,"b":1.02,"bl":0.94,"bh":1.1,"h":1.04,"hl":0.88,"hh":1.2},
{"p":5,"t":0,"m":1.03,"gl":0.82,"gh":1.18,"b":1.02,"bl":0.94,"bh":1.11,"h":1.04,"hl":0.88,"hh":1.23},
{"p":5,"t":0.2,"m":1.06,"gl":0.78,"gh":1.38,"b":1.02,"bl":0.94,"bh":1.12,"h":1.04,"hl":0.87,"hh":1.22},
{"p":5,"t":0.4,"m":1.02,"gl":0.75,"gh":1.25,"b":1.03,"bl":0.94,"bh":1.13,"h":1.03,"hl":0.86,"hh":1.18},
{"p":5,"t":0.6,"m":0.87,"gl":0.62,"gh":1.22,"b":1.03,"bl":0.93,"bh":1.14,"h":1.02,"hl":0.84,"hh":1.15},
{"p":5,"t":0.8,"m":0.85,"gl":0.55,"gh":1.28,"b":1.02,"bl":0.92,"bh":1.13,"h":1,"hl":0.8,"hh":1.12},
{"p":5,"t":1,"m":0.77,"gl":0.58,"gh":1.1,"b":1,"bl":0.9,"bh":1.1,"h":0.96,"hl":0.74,"hh":1.05},
{"p":5,"t":1.2,"m":0.78,"gl":0.48,"gh":0.95,"b":0.91,"bl":0.82,"bh":1,"h":0.88,"hl":0.65,"hh":0.96},
{"p":5,"t":1.4,"m":0.67,"gl":0.42,"gh":0.95,"b":0.82,"bl":0.73,"bh":0.91,"h":0.78,"hl":0.56,"hh":0.86},
{"p":5,"t":1.6,"m":0.7,"gl":0.35,"gh":0.85,"b":0.73,"bl":0.64,"bh":0.82,"h":0.67,"hl":0.46,"hh":0.76},
{"p":5,"t":1.8,"m":0.59,"gl":0.25,"gh":0.8,"b":0.63,"bl":0.55,"bh":0.71,"h":0.56,"hl":0.38,"hh":0.65},
{"p":5,"t":2,"m":0.55,"gl":0.38,"gh":0.75,"b":0.5,"bl":0.42,"bh":0.58,"h":0.47,"hl":0.3,"hh":0.56},
{"p":5,"t":2.2,"m":0.51,"gl":0.2,"gh":0.58,"b":0.39,"bl":0.32,"bh":0.46,"h":0.38,"hl":0.24,"hh":0.48},
{"p":5,"t":2.4,"m":0.38,"gl":0.05,"gh":0.6,"b":0.31,"bl":0.25,"bh":0.37,"h":0.3,"hl":0.18,"hh":0.4},
{"p":5,"t":2.6,"m":0.21,"gl":0,"gh":0.35,"b":0.26,"bl":0.2,"bh":0.32,"h":0.25,"hl":0.15,"hh":0.33},
{"p":5,"t":2.8,"m":0.15,"gl":-0.15,"gh":0.3,"b":0.225,"bl":0.17,"bh":0.28,"h":0.22,"hl":0.13,"hh":0.3},
{"p":5,"t":3,"m":0.08,"gl":-0.2,"gh":0.25,"b":0.2,"bl":0.15,"bh":0.25,"h":0.2,"hl":0.12,"hh":0.29},
{"p":5,"t":3.2,"m":0.12,"gl":-0.25,"gh":0.3,"b":0.18,"bl":0.13,"bh":0.23,"h":0.19,"hl":0.1,"hh":0.3},
{"p":5,"t":3.4,"m":0.085,"gl":-0.2,"gh":0.2,"b":0.16,"bl":0.11,"bh":0.21,"h":0.18,"hl":0.09,"hh":0.32},
{"p":5,"t":3.6,"m":0.11,"gl":-0.3,"gh":0.18,"b":0.145,"bl":0.1,"bh":0.2,"h":0.16,"hl":0.08,"hh":0.34},
{"p":5,"t":3.8,"m":0.09,"gl":-0.18,"gh":0.25,"b":0.13,"bl":0.08,"bh":0.18,"h":0.14,"hl":0.06,"hh":0.35},
{"p":5,"t":4,"m":0.11,"gl":-0.25,"gh":0.28,"b":0.11,"bl":0.06,"bh":0.16,"h":0.12,"hl":0.05,"hh":0.35},
{"p":5,"t":4.2,"m":-0.055,"gl":-0.35,"gh":0.15,"b":0.08,"bl":0.03,"bh":0.13,"h":0.09,"hl":0.04,"hh":0.32},
{"p":5,"t":4.4,"m":-0.065,"gl":-0.32,"gh":0.2,"b":0.05,"bl":0,"bh":0.1,"h":0.07,"hl":0.02,"hh":0.27},
{"p":5,"t":4.6,"m":-0.055,"gl":-0.4,"gh":0.3,"b":0.05,"bl":0,"bh":0.1,"h":0.05,"hl":0,"hh":0.21},
{"p":5,"t":4.8,"m":0.03,"gl":-0.3,"gh":0.42,"b":0.05,"bl":0,"bh":0.1,"h":0.04,"hl":-0.01,"hh":0.16},
{"p":5,"t":5,"m":-0.15,"gl":-0.4,"gh":0.2,"b":0.055,"bl":0.005,"bh":0.105,"h":0.03,"hl":-0.02,"hh":0.12},
{"p":5,"t":5.2,"m":-0.05,"gl":-0.36,"gh":0.25,"b":0.058,"bl":0.008,"bh":0.108,"h":0.03,"hl":-0.03,"hh":0.1},
{"p":5,"t":5.4,"m":0.005,"gl":-0.25,"gh":0.15,"b":0.058,"bl":0.008,"bh":0.108,"h":0.03,"hl":-0.04,"hh":0.1},
{"p":5,"t":5.6,"m":-0.02,"gl":-0.35,"gh":0.18,"b":0.058,"bl":0.008,"bh":0.108,"h":0.03,"hl":-0.05,"hh":0.1},
{"p":5,"t":5.8,"m":0.015,"gl":-0.4,"gh":0.22,"b":0.05,"bl":0,"bh":0.1,"h":0.03,"hl":-0.05,"hh":0.11},
{"p":5,"t":6,"m":-0.04,"gl":-0.28,"gh":0.12,"b":0.044,"bl":-0.006,"bh":0.094,"h":0.03,"hl":-0.06,"hh":0.12},
{"p":5,"t":6.2,"m":-0.03,"gl":-0.4,"gh":0.05,"b":0.04,"bl":-0.01,"bh":0.09,"h":0.03,"hl":-0.06,"hh":0.11},
{"p":5,"t":6.4,"m":-0.01,"gl":-0.34,"gh":0.1,"b":0.04,"bl":-0.01,"bh":0.09,"h":0.02,"hl":-0.06,"hh":0.1},
{"p":5,"t":6.6,"m":-0.065,"gl":-0.3,"gh":0,"b":0.04,"bl":-0.01,"bh":0.09,"h":0.01,"hl":-0.06,"hh":0.08},
{"p":5,"t":6.8,"m":-0.077,"gl":-0.2,"gh":0.05,"b":0.04,"bl":-0.01,"bh":0.09,"h":0.01,"hl":-0.05,"hh":0.06},
{"p":5,"t":7,"m":0.005,"gl":-0.3,"gh":0.15,"b":0.04,"bl":-0.01,"bh":0.09,"h":0,"hl":-0.05,"hh":0.05},
{"p":5,"t":7.2,"m":-0.03,"gl":-0.22,"gh":0.1,"b":0.04,"bl":-0.01,"bh":0.09,"h":0,"hl":-0.05,"hh":0.04},
{"p":5,"t":7.4,"m":0.05,"gl":-0.18,"gh":0.3,"b":0.04,"bl":-0.01,"bh":0.09,"h":0,"hl":-0.05,"hh":0.04},
{"p":5,"t":7.6,"m":0.1,"gl":-0.15,"gh":0.45,"b":0.04,"bl":-0.01,"bh":0.09,"h":0,"hl":-0.05,"hh":0.04},
{"p":5,"t":7.8,"m":0.225,"gl":-0.08,"gh":0.4,"b":0.02,"bl":-0.04,"bh":0.07,"h":0,"hl":-0.05,"hh":0.04},
{"p":5,"t":8,"m":0.015,"gl":-0.12,"gh":0.2,"b":-0.02,"bl":-0.07,"bh":0.04,"h":0,"hl":-0.05,"hh":0.04},

{"p":6,"t":-1,"m":0.94,"gl":0.66,"gh":1.22,"b":0.97,"bl":0.87,"bh":1.1,"h":1,"hl":0.82,"hh":1.2},
{"p":6,"t":-0.8,"m":0.98,"gl":0.72,"gh":1.18,"b":0.99,"bl":0.87,"bh":1.1,"h":1.01,"hl":0.82,"hh":1.2},
{"p":6,"t":-0.6,"m":0.99,"gl":0.78,"gh":1.15,"b":1,"bl":0.87,"bh":1.11,"h":1.02,"hl":0.83,"hh":1.21},
{"p":6,"t":-0.4,"m":0.89,"gl":0.72,"gh":1.18,"b":1,"bl":0.87,"bh":1.11,"h":1.02,"hl":0.84,"hh":1.21},
{"p":6,"t":-0.2,"m":0.99,"gl":0.65,"gh":1.2,"b":1,"bl":0.88,"bh":1.12,"h":1.03,"hl":0.85,"hh":1.22},
{"p":6,"t":0,"m":1.02,"gl":0.72,"gh":1.35,"b":1,"bl":0.88,"bh":1.12,"h":1.03,"hl":0.85,"hh":1.22},
{"p":6,"t":0.2,"m":1.09,"gl":0.75,"gh":1.5,"b":1,"bl":0.88,"bh":1.12,"h":1.03,"hl":0.85,"hh":1.22},
{"p":6,"t":0.4,"m":1.04,"gl":0.78,"gh":1.35,"b":1,"bl":0.87,"bh":1.11,"h":1.03,"hl":0.84,"hh":1.21},
{"p":6,"t":0.6,"m":0.97,"gl":0.75,"gh":1.3,"b":0.99,"bl":0.86,"bh":1.1,"h":1.03,"hl":0.83,"hh":1.2},
{"p":6,"t":0.8,"m":0.94,"gl":0.7,"gh":1.22,"b":0.97,"bl":0.84,"bh":1.08,"h":1.02,"hl":0.8,"hh":1.18},
{"p":6,"t":1,"m":0.89,"gl":0.62,"gh":1.15,"b":0.93,"bl":0.8,"bh":1.05,"h":0.98,"hl":0.76,"hh":1.15},
{"p":6,"t":1.2,"m":0.83,"gl":0.55,"gh":1.08,"b":0.86,"bl":0.73,"bh":0.98,"h":0.92,"hl":0.68,"hh":1.08},
{"p":6,"t":1.4,"m":0.76,"gl":0.45,"gh":1.05,"b":0.77,"bl":0.65,"bh":0.9,"h":0.84,"hl":0.6,"hh":1},
{"p":6,"t":1.6,"m":0.69,"gl":0.38,"gh":1,"b":0.66,"bl":0.57,"bh":0.82,"h":0.74,"hl":0.52,"hh":0.92},
{"p":6,"t":1.8,"m":0.655,"gl":0.32,"gh":0.98,"b":0.56,"bl":0.5,"bh":0.75,"h":0.64,"hl":0.45,"hh":0.85},
{"p":6,"t":2,"m":0.62,"gl":0.2,"gh":0.85,"b":0.49,"bl":0.44,"bh":0.67,"h":0.55,"hl":0.37,"hh":0.78},
{"p":6,"t":2.2,"m":0.54,"gl":0.12,"gh":0.82,"b":0.43,"bl":0.38,"bh":0.6,"h":0.47,"hl":0.3,"hh":0.7},
{"p":6,"t":2.4,"m":0.44,"gl":0.05,"gh":0.75,"b":0.37,"bl":0.31,"bh":0.52,"h":0.4,"hl":0.25,"hh":0.62},
{"p":6,"t":2.6,"m":0.47,"gl":0.02,"gh":0.65,"b":0.32,"bl":0.25,"bh":0.45,"h":0.33,"hl":0.2,"hh":0.55},
{"p":6,"t":2.8,"m":0.34,"gl":-0.05,"gh":0.58,"b":0.26,"bl":0.19,"bh":0.39,"h":0.27,"hl":0.15,"hh":0.5},
{"p":6,"t":3,"m":0.25,"gl":-0.1,"gh":0.5,"b":0.2,"bl":0.14,"bh":0.33,"h":0.22,"hl":0.1,"hh":0.45},
{"p":6,"t":3.2,"m":0.2,"gl":-0.15,"gh":0.42,"b":0.15,"bl":0.1,"bh":0.27,"h":0.17,"hl":0.06,"hh":0.41},
{"p":6,"t":3.4,"m":0.12,"gl":-0.22,"gh":0.38,"b":0.11,"bl":0.06,"bh":0.22,"h":0.13,"hl":0.02,"hh":0.38},
{"p":6,"t":3.6,"m":0.09,"gl":-0.3,"gh":0.33,"b":0.08,"bl":0.03,"bh":0.18,"h":0.1,"hl":-0.02,"hh":0.33},
{"p":6,"t":3.8,"m":0.04,"gl":-0.4,"gh":0.3,"b":0.05,"bl":0,"bh":0.15,"h":0.08,"hl":-0.05,"hh":0.28},
{"p":6,"t":4,"m":0.02,"gl":-0.32,"gh":0.25,"b":0.04,"bl":-0.03,"bh":0.13,"h":0.07,"hl":-0.07,"hh":0.25},
{"p":6,"t":4.2,"m":-0.005,"gl":-0.3,"gh":0.22,"b":0.03,"bl":-0.05,"bh":0.12,"h":0.06,"hl":-0.08,"hh":0.23},
{"p":6,"t":4.4,"m":0.016,"gl":-0.25,"gh":0.2,"b":0.03,"bl":-0.06,"bh":0.12,"h":0.05,"hl":-0.1,"hh":0.22},
{"p":6,"t":4.6,"m":0.035,"gl":-0.28,"gh":0.3,"b":0.02,"bl":-0.06,"bh":0.12,"h":0.05,"hl":-0.11,"hh":0.21},
{"p":6,"t":4.8,"m":0.11,"gl":-0.22,"gh":0.35,"b":0.02,"bl":-0.06,"bh":0.12,"h":0.05,"hl":-0.12,"hh":0.2},
{"p":6,"t":5,"m":0.145,"gl":-0.25,"gh":0.28,"b":0.02,"bl":-0.05,"bh":0.12,"h":0.05,"hl":-0.12,"hh":0.2},
{"p":6,"t":5.2,"m":0.04,"gl":-0.2,"gh":0.35,"b":0.025,"bl":-0.05,"bh":0.12,"h":0.05,"hl":-0.1,"hh":0.2},
{"p":6,"t":5.4,"m":0.167,"gl":-0.22,"gh":0.32,"b":0.035,"bl":-0.04,"bh":0.12,"h":0.05,"hl":-0.08,"hh":0.2},
{"p":6,"t":5.6,"m":0.175,"gl":-0.18,"gh":0.38,"b":0.04,"bl":-0.03,"bh":0.12,"h":0.05,"hl":-0.06,"hh":0.2},
{"p":6,"t":5.8,"m":0.167,"gl":-0.2,"gh":0.35,"b":0.04,"bl":-0.03,"bh":0.12,"h":0.05,"hl":-0.06,"hh":0.2},
{"p":6,"t":6,"m":0.086,"gl":-0.22,"gh":0.25,"b":0.035,"bl":-0.03,"bh":0.11,"h":0.05,"hl":-0.06,"hh":0.18},
{"p":6,"t":6.2,"m":0.012,"gl":-0.25,"gh":0.2,"b":0.03,"bl":-0.04,"bh":0.1,"h":0.05,"hl":-0.08,"hh":0.15},
{"p":6,"t":6.4,"m":0.016,"gl":-0.28,"gh":0.18,"b":0.025,"bl":-0.05,"bh":0.09,"h":0.04,"hl":-0.1,"hh":0.13},
{"p":6,"t":6.6,"m":-0.04,"gl":-0.3,"gh":0.12,"b":0.02,"bl":-0.05,"bh":0.08,"h":0.04,"hl":-0.11,"hh":0.1},
{"p":6,"t":6.8,"m":-0.09,"gl":-0.28,"gh":0.15,"b":0.02,"bl":-0.06,"bh":0.07,"h":0.03,"hl":-0.12,"hh":0.1},
{"p":6,"t":7,"m":0,"gl":-0.32,"gh":0.2,"b":0.02,"bl":-0.06,"bh":0.06,"h":0.02,"hl":-0.12,"hh":0.1},
{"p":6,"t":7.2,"m":0.016,"gl":-0.3,"gh":0.18,"b":0.02,"bl":-0.06,"bh":0.06,"h":0.01,"hl":-0.12,"hh":0.1},
{"p":6,"t":7.4,"m":0.04,"gl":-0.28,"gh":0.2,"b":0.02,"bl":-0.05,"bh":0.05,"h":0,"hl":-0.12,"hh":0.1},
{"p":6,"t":7.6,"m":0.005,"gl":-0.3,"gh":0.15,"b":0.01,"bl":-0.05,"bh":0.05,"h":-0.01,"hl":-0.12,"hh":0.1},
{"p":6,"t":7.8,"m":-0.03,"gl":-0.3,"gh":0.22,"b":0.005,"bl":-0.05,"bh":0.05,"h":-0.01,"hl":-0.12,"hh":0.1},
{"p":6,"t":8,"m":0,"gl":-0.28,"gh":0.27,"b":0,"bl":-0.05,"bh":0.04,"h":-0.01,"hl":-0.12,"hh":0.1}
]},
"concat": [
{"width": 329, "height": 272, "title": "Wind speed range: 5 to 7 ms⁻¹ - 19 sims",
 "transform": [{"filter": "datum.p == 1"}],
 "encoding": {"x": {"field": "t", "type": "quantitative", "scale": {"domain": [-1, 8], "nice": false, "zero": false}, "axis": {"title": "Time [s]", "values": [0, 2, 4, 6, 8]}}},
 "layer": [
  {"mark": {"type": "area", "color": "#aaaaaa", "opacity": 1, "clip": true}, "encoding": {"y": {"field": "gl", "type": "quantitative", "scale": {"domain": [-0.4, 1.5], "nice": false, "zero": false}, "axis": {"title": "Normalized transient [-]", "tickCount": 10, "labelOverlap": false, "labelExpr": "replace(format(datum.value, '~g'), '\u2212', '-')"}}, "y2": {"field": "gh"}}},
  {"mark": {"type": "area", "color": "#0000ff", "opacity": 0.3, "clip": true}, "encoding": {"y": {"field": "bl", "type": "quantitative"}, "y2": {"field": "bh"}}},
  {"mark": {"type": "area", "color": "#ff0000", "opacity": 0.3, "clip": true}, "encoding": {"y": {"field": "hl", "type": "quantitative"}, "y2": {"field": "hh"}}},
  {"mark": {"type": "line", "strokeWidth": 2.5, "strokeDash": [7, 4]}, "encoding": {"y": {"field": "b", "type": "quantitative"}, "color": {"datum": "BHawC", "scale": {"domain": ["Measurement", "BHawC", "HAWC2"], "range": ["black", "blue", "red"]}, "legend": null}}},
  {"mark": {"type": "point", "shape": "cross", "angle": 45, "filled": true, "size": 40, "color": "blue", "opacity": 1}, "encoding": {"y": {"field": "b", "type": "quantitative"}}},
  {"mark": {"type": "line", "strokeWidth": 3, "strokeDash": [8, 4]}, "encoding": {"y": {"field": "h", "type": "quantitative"}, "color": {"datum": "HAWC2", "legend": null}}},
  {"mark": {"type": "line", "strokeWidth": 3}, "encoding": {"y": {"field": "m", "type": "quantitative"}, "color": {"datum": "Measurement", "legend": null}}},
  {"transform": [{"filter": "round((datum.t + 1) * 5) % 2 == 0"}], "mark": {"type": "point", "shape": "circle", "filled": true, "size": 150, "color": "black", "opacity": 1}, "encoding": {"y": {"field": "m", "type": "quantitative"}}}
 ]},
{"width": 329, "height": 272, "title": "Wind speed range: 7 to 9 ms⁻¹ - 34 sims",
 "transform": [{"filter": "datum.p == 2"}],
 "encoding": {"x": {"field": "t", "type": "quantitative", "scale": {"domain": [-1, 8], "nice": false, "zero": false}, "axis": {"title": "Time [s]", "values": [0, 2, 4, 6, 8]}}},
 "layer": [
  {"mark": {"type": "area", "color": "#aaaaaa", "opacity": 1, "clip": true}, "encoding": {"y": {"field": "gl", "type": "quantitative", "scale": {"domain": [-0.4, 1.5], "nice": false, "zero": false}, "axis": {"title": "Normalized transient [-]", "tickCount": 10, "labelOverlap": false, "labelExpr": "replace(format(datum.value, '~g'), '\u2212', '-')"}}, "y2": {"field": "gh"}}},
  {"mark": {"type": "area", "color": "#0000ff", "opacity": 0.3, "clip": true}, "encoding": {"y": {"field": "bl", "type": "quantitative"}, "y2": {"field": "bh"}}},
  {"mark": {"type": "area", "color": "#ff0000", "opacity": 0.3, "clip": true}, "encoding": {"y": {"field": "hl", "type": "quantitative"}, "y2": {"field": "hh"}}},
  {"mark": {"type": "line", "strokeWidth": 2.5, "strokeDash": [7, 4]}, "encoding": {"y": {"field": "b", "type": "quantitative"}, "color": {"datum": "BHawC", "scale": {"domain": ["Measurement", "BHawC", "HAWC2"], "range": ["black", "blue", "red"]}, "legend": {"title": null, "orient": "top-right", "offset": 0, "symbolType": "stroke", "symbolSize": 225, "symbolOffset": 11.5, "symbolStrokeWidth": 3, "labelFontSize": 18, "labelFont": "Liberation Sans", "labelColor": "black", "strokeColor": "#555555", "fillColor": "white", "padding": 5, "rowPadding": 1, "labelOffset": 18, "encode": {"symbols": {"update": {"shape": {"signal": "datum.value === 'Measurement' ? 'M-2.53,0L2.53,0M0.8,0A0.8,0.8,0,1,1,-0.8,0A0.8,0.8,0,1,1,0.8,0' : datum.value === 'BHawC' ? 'M-2.53,0L2.53,0M-0.6,-0.6L0.6,0.6M-0.6,0.6L0.6,-0.6' : 'M-2.53,0L2.53,0'"}, "strokeDash": {"signal": "datum.value === 'Measurement' ? [] : datum.value === 'BHawC' ? [11, 4] : [8, 5]"}, "fill": {"signal": "datum.value === 'Measurement' ? 'black' : 'transparent'"}}}}}}}},
  {"mark": {"type": "point", "shape": "cross", "angle": 45, "filled": true, "size": 40, "color": "blue", "opacity": 1}, "encoding": {"y": {"field": "b", "type": "quantitative"}}},
  {"mark": {"type": "line", "strokeWidth": 3, "strokeDash": [8, 4]}, "encoding": {"y": {"field": "h", "type": "quantitative"}, "color": {"datum": "HAWC2"}}},
  {"mark": {"type": "line", "strokeWidth": 3}, "encoding": {"y": {"field": "m", "type": "quantitative"}, "color": {"datum": "Measurement"}}},
  {"transform": [{"filter": "round((datum.t + 1) * 5) % 2 == 0"}], "mark": {"type": "point", "shape": "circle", "filled": true, "size": 150, "color": "black", "opacity": 1}, "encoding": {"y": {"field": "m", "type": "quantitative"}}}
 ]},
{"width": 329, "height": 272, "title": "Wind speed range: 9 to 11 ms⁻¹ - 35 sims",
 "transform": [{"filter": "datum.p == 3"}],
 "encoding": {"x": {"field": "t", "type": "quantitative", "scale": {"domain": [-1, 8], "nice": false, "zero": false}, "axis": {"title": "Time [s]", "values": [0, 2, 4, 6, 8]}}},
 "layer": [
  {"mark": {"type": "area", "color": "#aaaaaa", "opacity": 1, "clip": true}, "encoding": {"y": {"field": "gl", "type": "quantitative", "scale": {"domain": [-0.4, 1.5], "nice": false, "zero": false}, "axis": {"title": "Normalized transient [-]", "tickCount": 10, "labelOverlap": false, "labelExpr": "replace(format(datum.value, '~g'), '\u2212', '-')"}}, "y2": {"field": "gh"}}},
  {"mark": {"type": "area", "color": "#0000ff", "opacity": 0.3, "clip": true}, "encoding": {"y": {"field": "bl", "type": "quantitative"}, "y2": {"field": "bh"}}},
  {"mark": {"type": "area", "color": "#ff0000", "opacity": 0.3, "clip": true}, "encoding": {"y": {"field": "hl", "type": "quantitative"}, "y2": {"field": "hh"}}},
  {"mark": {"type": "line", "strokeWidth": 2.5, "strokeDash": [7, 4]}, "encoding": {"y": {"field": "b", "type": "quantitative"}, "color": {"datum": "BHawC", "scale": {"domain": ["Measurement", "BHawC", "HAWC2"], "range": ["black", "blue", "red"]}, "legend": null}}},
  {"mark": {"type": "point", "shape": "cross", "angle": 45, "filled": true, "size": 40, "color": "blue", "opacity": 1}, "encoding": {"y": {"field": "b", "type": "quantitative"}}},
  {"mark": {"type": "line", "strokeWidth": 3, "strokeDash": [8, 4]}, "encoding": {"y": {"field": "h", "type": "quantitative"}, "color": {"datum": "HAWC2", "legend": null}}},
  {"mark": {"type": "line", "strokeWidth": 3}, "encoding": {"y": {"field": "m", "type": "quantitative"}, "color": {"datum": "Measurement", "legend": null}}},
  {"transform": [{"filter": "round((datum.t + 1) * 5) % 2 == 0"}], "mark": {"type": "point", "shape": "circle", "filled": true, "size": 150, "color": "black", "opacity": 1}, "encoding": {"y": {"field": "m", "type": "quantitative"}}}
 ]},
{"width": 329, "height": 272, "title": "Wind speed range: 11 to 13 ms⁻¹ - 21 sims",
 "transform": [{"filter": "datum.p == 4"}],
 "encoding": {"x": {"field": "t", "type": "quantitative", "scale": {"domain": [-1, 8], "nice": false, "zero": false}, "axis": {"title": "Time [s]", "values": [0, 2, 4, 6, 8]}}},
 "layer": [
  {"mark": {"type": "area", "color": "#aaaaaa", "opacity": 1, "clip": true}, "encoding": {"y": {"field": "gl", "type": "quantitative", "scale": {"domain": [-0.4, 1.5], "nice": false, "zero": false}, "axis": {"title": "Normalized transient [-]", "tickCount": 10, "labelOverlap": false, "labelExpr": "replace(format(datum.value, '~g'), '\u2212', '-')"}}, "y2": {"field": "gh"}}},
  {"mark": {"type": "area", "color": "#0000ff", "opacity": 0.3, "clip": true}, "encoding": {"y": {"field": "bl", "type": "quantitative"}, "y2": {"field": "bh"}}},
  {"mark": {"type": "area", "color": "#ff0000", "opacity": 0.3, "clip": true}, "encoding": {"y": {"field": "hl", "type": "quantitative"}, "y2": {"field": "hh"}}},
  {"mark": {"type": "line", "strokeWidth": 2.5, "strokeDash": [7, 4]}, "encoding": {"y": {"field": "b", "type": "quantitative"}, "color": {"datum": "BHawC", "scale": {"domain": ["Measurement", "BHawC", "HAWC2"], "range": ["black", "blue", "red"]}, "legend": {"title": null, "orient": "top-right", "offset": 0, "symbolType": "stroke", "symbolSize": 225, "symbolOffset": 11.5, "symbolStrokeWidth": 3, "labelFontSize": 18, "labelFont": "Liberation Sans", "labelColor": "black", "strokeColor": "#555555", "fillColor": "white", "padding": 5, "rowPadding": 1, "labelOffset": 18, "encode": {"symbols": {"update": {"shape": {"signal": "datum.value === 'Measurement' ? 'M-2.53,0L2.53,0M0.8,0A0.8,0.8,0,1,1,-0.8,0A0.8,0.8,0,1,1,0.8,0' : datum.value === 'BHawC' ? 'M-2.53,0L2.53,0M-0.6,-0.6L0.6,0.6M-0.6,0.6L0.6,-0.6' : 'M-2.53,0L2.53,0'"}, "strokeDash": {"signal": "datum.value === 'Measurement' ? [] : datum.value === 'BHawC' ? [11, 4] : [8, 5]"}, "fill": {"signal": "datum.value === 'Measurement' ? 'black' : 'transparent'"}}}}}}}},
  {"mark": {"type": "point", "shape": "cross", "angle": 45, "filled": true, "size": 40, "color": "blue", "opacity": 1}, "encoding": {"y": {"field": "b", "type": "quantitative"}}},
  {"mark": {"type": "line", "strokeWidth": 3, "strokeDash": [8, 4]}, "encoding": {"y": {"field": "h", "type": "quantitative"}, "color": {"datum": "HAWC2"}}},
  {"mark": {"type": "line", "strokeWidth": 3}, "encoding": {"y": {"field": "m", "type": "quantitative"}, "color": {"datum": "Measurement"}}},
  {"transform": [{"filter": "round((datum.t + 1) * 5) % 2 == 0"}], "mark": {"type": "point", "shape": "circle", "filled": true, "size": 150, "color": "black", "opacity": 1}, "encoding": {"y": {"field": "m", "type": "quantitative"}}}
 ]},
{"width": 329, "height": 272, "title": "Wind speed range: 13 to 15 ms⁻¹ - 9 sims",
 "transform": [{"filter": "datum.p == 5"}],
 "encoding": {"x": {"field": "t", "type": "quantitative", "scale": {"domain": [-1, 8], "nice": false, "zero": false}, "axis": {"title": "Time [s]", "values": [0, 2, 4, 6, 8]}}},
 "layer": [
  {"mark": {"type": "area", "color": "#aaaaaa", "opacity": 1, "clip": true}, "encoding": {"y": {"field": "gl", "type": "quantitative", "scale": {"domain": [-0.4, 1.5], "nice": false, "zero": false}, "axis": {"title": "Normalized transient [-]", "tickCount": 10, "labelOverlap": false, "labelExpr": "replace(format(datum.value, '~g'), '\u2212', '-')"}}, "y2": {"field": "gh"}}},
  {"mark": {"type": "area", "color": "#0000ff", "opacity": 0.3, "clip": true}, "encoding": {"y": {"field": "bl", "type": "quantitative"}, "y2": {"field": "bh"}}},
  {"mark": {"type": "area", "color": "#ff0000", "opacity": 0.3, "clip": true}, "encoding": {"y": {"field": "hl", "type": "quantitative"}, "y2": {"field": "hh"}}},
  {"mark": {"type": "line", "strokeWidth": 2.5, "strokeDash": [7, 4]}, "encoding": {"y": {"field": "b", "type": "quantitative"}, "color": {"datum": "BHawC", "scale": {"domain": ["Measurement", "BHawC", "HAWC2"], "range": ["black", "blue", "red"]}, "legend": null}}},
  {"mark": {"type": "point", "shape": "cross", "angle": 45, "filled": true, "size": 40, "color": "blue", "opacity": 1}, "encoding": {"y": {"field": "b", "type": "quantitative"}}},
  {"mark": {"type": "line", "strokeWidth": 3, "strokeDash": [8, 4]}, "encoding": {"y": {"field": "h", "type": "quantitative"}, "color": {"datum": "HAWC2", "legend": null}}},
  {"mark": {"type": "line", "strokeWidth": 3}, "encoding": {"y": {"field": "m", "type": "quantitative"}, "color": {"datum": "Measurement", "legend": null}}},
  {"transform": [{"filter": "round((datum.t + 1) * 5) % 2 == 0"}], "mark": {"type": "point", "shape": "circle", "filled": true, "size": 150, "color": "black", "opacity": 1}, "encoding": {"y": {"field": "m", "type": "quantitative"}}}
 ]},
{"width": 329, "height": 272, "title": "Wind speed range: 15 to 21 ms⁻¹ - 17 sims",
 "transform": [{"filter": "datum.p == 6"}],
 "encoding": {"x": {"field": "t", "type": "quantitative", "scale": {"domain": [-1, 8], "nice": false, "zero": false}, "axis": {"title": "Time [s]", "values": [0, 2, 4, 6, 8]}}},
 "layer": [
  {"mark": {"type": "area", "color": "#aaaaaa", "opacity": 1, "clip": true}, "encoding": {"y": {"field": "gl", "type": "quantitative", "scale": {"domain": [-0.4, 1.5], "nice": false, "zero": false}, "axis": {"title": "Normalized transient [-]", "tickCount": 10, "labelOverlap": false, "labelExpr": "replace(format(datum.value, '~g'), '\u2212', '-')"}}, "y2": {"field": "gh"}}},
  {"mark": {"type": "area", "color": "#0000ff", "opacity": 0.3, "clip": true}, "encoding": {"y": {"field": "bl", "type": "quantitative"}, "y2": {"field": "bh"}}},
  {"mark": {"type": "area", "color": "#ff0000", "opacity": 0.3, "clip": true}, "encoding": {"y": {"field": "hl", "type": "quantitative"}, "y2": {"field": "hh"}}},
  {"mark": {"type": "line", "strokeWidth": 2.5, "strokeDash": [7, 4]}, "encoding": {"y": {"field": "b", "type": "quantitative"}, "color": {"datum": "BHawC", "scale": {"domain": ["Measurement", "BHawC", "HAWC2"], "range": ["black", "blue", "red"]}, "legend": {"title": null, "orient": "top-right", "offset": 0, "symbolType": "stroke", "symbolSize": 225, "symbolOffset": 11.5, "symbolStrokeWidth": 3, "labelFontSize": 18, "labelFont": "Liberation Sans", "labelColor": "black", "strokeColor": "#555555", "fillColor": "white", "padding": 5, "rowPadding": 1, "labelOffset": 18, "encode": {"symbols": {"update": {"shape": {"signal": "datum.value === 'Measurement' ? 'M-2.53,0L2.53,0M0.8,0A0.8,0.8,0,1,1,-0.8,0A0.8,0.8,0,1,1,0.8,0' : datum.value === 'BHawC' ? 'M-2.53,0L2.53,0M-0.6,-0.6L0.6,0.6M-0.6,0.6L0.6,-0.6' : 'M-2.53,0L2.53,0'"}, "strokeDash": {"signal": "datum.value === 'Measurement' ? [] : datum.value === 'BHawC' ? [11, 4] : [8, 5]"}, "fill": {"signal": "datum.value === 'Measurement' ? 'black' : 'transparent'"}}}}}}}},
  {"mark": {"type": "point", "shape": "cross", "angle": 45, "filled": true, "size": 40, "color": "blue", "opacity": 1}, "encoding": {"y": {"field": "b", "type": "quantitative"}}},
  {"mark": {"type": "line", "strokeWidth": 3, "strokeDash": [8, 4]}, "encoding": {"y": {"field": "h", "type": "quantitative"}, "color": {"datum": "HAWC2"}}},
  {"mark": {"type": "line", "strokeWidth": 3}, "encoding": {"y": {"field": "m", "type": "quantitative"}, "color": {"datum": "Measurement"}}},
  {"transform": [{"filter": "round((datum.t + 1) * 5) % 2 == 0"}], "mark": {"type": "point", "shape": "circle", "filled": true, "size": 150, "color": "black", "opacity": 1}, "encoding": {"y": {"field": "m", "type": "quantitative"}}}
 ]}
],
"config": {
 "view": {"stroke": null},
 "font": "Liberation Sans",
 "axis": {"grid": false, "domainColor": "#444444", "tickColor": "#444444", "labelColor": "#262626", "labelFontSize": 13, "labelFont": "Liberation Sans", "titleFont": "Liberation Sans", "titleFontSize": 20.5, "titleFontWeight": "normal", "titleColor": "black", "tickSize": -4, "labelPadding": 12, "labelOverlap": false, "domainWidth": 1, "tickWidth": 1},
 "axisY": {"titleFontSize": 21, "titlePadding": 7, "labelPadding": 9},
 "axisX": {"titlePadding": 6},
 "title": {"fontSize": 21, "fontWeight": "normal", "font": "Liberation Sans", "color": "black", "offset": 5}
}
}
